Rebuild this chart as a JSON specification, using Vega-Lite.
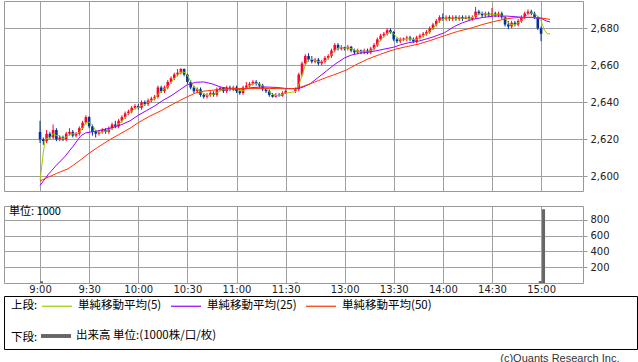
{
  "$schema": "https://vega.github.io/schema/vega-lite/v6.json",
  "padding": {"left": 3, "top": 0, "right": 0, "bottom": 0},
  "background": "#ffffff",
  "title": {"text": "(c)Quants Research Inc.", "orient": "bottom", "anchor": "end", "offset": 3, "dx": -18, "fontSize": 11, "fontWeight": "normal", "font": "Liberation Sans", "color": "#333333"},
  "config": {
    "font": "DejaVu Sans",
    "view": {"stroke": "#999999", "strokeWidth": 1},
    "axis": {"gridColor": "#a0a0a0", "gridWidth": 1, "gridOpacity": 1, "domain": false, "tickColor": "#999999", "labelColor": "#222222", "title": null, "labelFont": "DejaVu Sans", "labelFontSize": 10},
    "legend": {"labelFont": "Noto Sans CJK JP", "labelFontSize": 11.5, "labelColor": "#000000", "padding": 0}
  },
  "datasets": {
    "k": [
      {"t":0,"o":2624,"h":2630,"l":2618,"c":2620},
      {"t":2,"o":2620,"h":2621,"l":2617,"c":2619},
      {"t":4,"o":2619,"h":2625,"l":2618,"c":2623},
      {"t":6,"o":2623,"h":2624,"l":2620,"c":2621},
      {"t":8,"o":2621,"h":2628,"l":2620,"c":2625},
      {"t":10,"o":2625,"h":2626,"l":2619,"c":2620},
      {"t":12,"o":2620,"h":2622,"l":2619,"c":2621},
      {"t":14,"o":2621,"h":2622,"l":2619,"c":2620},
      {"t":16,"o":2620,"h":2624,"l":2619,"c":2623},
      {"t":18,"o":2623,"h":2626,"l":2622,"c":2624},
      {"t":20,"o":2624,"h":2625,"l":2621,"c":2622},
      {"t":22,"o":2622,"h":2624,"l":2621,"c":2623},
      {"t":24,"o":2623,"h":2627,"l":2622,"c":2626},
      {"t":26,"o":2626,"h":2630,"l":2625,"c":2629},
      {"t":28,"o":2629,"h":2633,"l":2628,"c":2632},
      {"t":30,"o":2632,"h":2632.5,"l":2626,"c":2627},
      {"t":32,"o":2627,"h":2628,"l":2622,"c":2624},
      {"t":34,"o":2624,"h":2625,"l":2621,"c":2623},
      {"t":36,"o":2623,"h":2625,"l":2622,"c":2624},
      {"t":38,"o":2624,"h":2626,"l":2623,"c":2625},
      {"t":40,"o":2625,"h":2626,"l":2623,"c":2624},
      {"t":42,"o":2624,"h":2627,"l":2623,"c":2626},
      {"t":44,"o":2626,"h":2629,"l":2625,"c":2628},
      {"t":46,"o":2628,"h":2630,"l":2626,"c":2627},
      {"t":48,"o":2627,"h":2631,"l":2626,"c":2630},
      {"t":50,"o":2630,"h":2633,"l":2629,"c":2632},
      {"t":52,"o":2632,"h":2635,"l":2631,"c":2634},
      {"t":54,"o":2634,"h":2636,"l":2633,"c":2635},
      {"t":56,"o":2635,"h":2638,"l":2634,"c":2637},
      {"t":58,"o":2637,"h":2639,"l":2636,"c":2638},
      {"t":60,"o":2638,"h":2639,"l":2636,"c":2637},
      {"t":62,"o":2637,"h":2641,"l":2636,"c":2640},
      {"t":64,"o":2640,"h":2641,"l":2638,"c":2639},
      {"t":66,"o":2639,"h":2642,"l":2638,"c":2641},
      {"t":68,"o":2641,"h":2643,"l":2640,"c":2642},
      {"t":70,"o":2642,"h":2644,"l":2641,"c":2643},
      {"t":72,"o":2643,"h":2649,"l":2642,"c":2648},
      {"t":74,"o":2648,"h":2649,"l":2645,"c":2646},
      {"t":76,"o":2646,"h":2649,"l":2645,"c":2648},
      {"t":78,"o":2648,"h":2652,"l":2647,"c":2651},
      {"t":80,"o":2651,"h":2654,"l":2650,"c":2653},
      {"t":82,"o":2653,"h":2656,"l":2652,"c":2655},
      {"t":84,"o":2655,"h":2658,"l":2654,"c":2656},
      {"t":86,"o":2656,"h":2658.5,"l":2655,"c":2658},
      {"t":88,"o":2658,"h":2658.3,"l":2654,"c":2655},
      {"t":90,"o":2655,"h":2655.5,"l":2650,"c":2651},
      {"t":92,"o":2651,"h":2652,"l":2647,"c":2648},
      {"t":94,"o":2648,"h":2649,"l":2645,"c":2646},
      {"t":96,"o":2646,"h":2648,"l":2645,"c":2647},
      {"t":98,"o":2647,"h":2648,"l":2643,"c":2644},
      {"t":100,"o":2644,"h":2645,"l":2642,"c":2643},
      {"t":102,"o":2643,"h":2645,"l":2642,"c":2644},
      {"t":104,"o":2644,"h":2646,"l":2643,"c":2645},
      {"t":106,"o":2645,"h":2646,"l":2643,"c":2644},
      {"t":108,"o":2644,"h":2648,"l":2643,"c":2647},
      {"t":110,"o":2647,"h":2648.5,"l":2646,"c":2647.8},
      {"t":112,"o":2647.8,"h":2648,"l":2645,"c":2646},
      {"t":114,"o":2646,"h":2649,"l":2645,"c":2648},
      {"t":116,"o":2648,"h":2649,"l":2646,"c":2647},
      {"t":118,"o":2647,"h":2649,"l":2646,"c":2648},
      {"t":120,"o":2648,"h":2649,"l":2645,"c":2646},
      {"t":122,"o":2646,"h":2647,"l":2644,"c":2645},
      {"t":124,"o":2645,"h":2649,"l":2644,"c":2648},
      {"t":126,"o":2648,"h":2651,"l":2647,"c":2649},
      {"t":128,"o":2649,"h":2651,"l":2648,"c":2650},
      {"t":130,"o":2650,"h":2652,"l":2649,"c":2651},
      {"t":132,"o":2651,"h":2652,"l":2649,"c":2650},
      {"t":134,"o":2650,"h":2651,"l":2648,"c":2649},
      {"t":136,"o":2649,"h":2650,"l":2646,"c":2647},
      {"t":138,"o":2647,"h":2648,"l":2645,"c":2646},
      {"t":140,"o":2646,"h":2647,"l":2643,"c":2644},
      {"t":142,"o":2644,"h":2645,"l":2642.5,"c":2643},
      {"t":144,"o":2643,"h":2645,"l":2642.5,"c":2644},
      {"t":146,"o":2644,"h":2645,"l":2643,"c":2643.5},
      {"t":148,"o":2643.5,"h":2646,"l":2643,"c":2645},
      {"t":150,"o":2645,"h":2647,"l":2644.5,"c":2646},
      {"t":156,"o":2646,"h":2648,"l":2645,"c":2647},
      {"t":158,"o":2647,"h":2656,"l":2646,"c":2655},
      {"t":160,"o":2655,"h":2662,"l":2654,"c":2661},
      {"t":162,"o":2661,"h":2666,"l":2660,"c":2665},
      {"t":164,"o":2665,"h":2666.5,"l":2662,"c":2663},
      {"t":166,"o":2663,"h":2665,"l":2661,"c":2662},
      {"t":168,"o":2662,"h":2664,"l":2661,"c":2663},
      {"t":170,"o":2663,"h":2664,"l":2660,"c":2661},
      {"t":172,"o":2661,"h":2663,"l":2660,"c":2662},
      {"t":174,"o":2662,"h":2665,"l":2661,"c":2664},
      {"t":176,"o":2664,"h":2666,"l":2663,"c":2665},
      {"t":178,"o":2665,"h":2669,"l":2664,"c":2668},
      {"t":180,"o":2668,"h":2672,"l":2667,"c":2671},
      {"t":182,"o":2671,"h":2672,"l":2668,"c":2669},
      {"t":184,"o":2669,"h":2671,"l":2668,"c":2669.8},
      {"t":186,"o":2669.8,"h":2670,"l":2668,"c":2669},
      {"t":188,"o":2669,"h":2671,"l":2668,"c":2670},
      {"t":190,"o":2670,"h":2670.5,"l":2667,"c":2668},
      {"t":192,"o":2668,"h":2669,"l":2666,"c":2667},
      {"t":194,"o":2667,"h":2669,"l":2666,"c":2668},
      {"t":196,"o":2668,"h":2668.5,"l":2666,"c":2667},
      {"t":198,"o":2667,"h":2669,"l":2666,"c":2668},
      {"t":200,"o":2668,"h":2669,"l":2666,"c":2667},
      {"t":202,"o":2667,"h":2670,"l":2666,"c":2669},
      {"t":204,"o":2669,"h":2672,"l":2668,"c":2671},
      {"t":206,"o":2671,"h":2675,"l":2670,"c":2674},
      {"t":208,"o":2674,"h":2677,"l":2673,"c":2676},
      {"t":210,"o":2676,"h":2678,"l":2675,"c":2677},
      {"t":212,"o":2677,"h":2680,"l":2676,"c":2679},
      {"t":214,"o":2679,"h":2680,"l":2677,"c":2678},
      {"t":216,"o":2678,"h":2678.5,"l":2673,"c":2674},
      {"t":218,"o":2674,"h":2675,"l":2672,"c":2673},
      {"t":220,"o":2673,"h":2675,"l":2672,"c":2674},
      {"t":222,"o":2674,"h":2675,"l":2673,"c":2674.5},
      {"t":224,"o":2674.5,"h":2676,"l":2673,"c":2675},
      {"t":226,"o":2675,"h":2676,"l":2673,"c":2674},
      {"t":228,"o":2674,"h":2675,"l":2672,"c":2673},
      {"t":230,"o":2673,"h":2676,"l":2672,"c":2675},
      {"t":232,"o":2675,"h":2677,"l":2674,"c":2676},
      {"t":234,"o":2676,"h":2678,"l":2675,"c":2677},
      {"t":236,"o":2677,"h":2679,"l":2676,"c":2678},
      {"t":238,"o":2678,"h":2681,"l":2677,"c":2680},
      {"t":240,"o":2680,"h":2683,"l":2679,"c":2682},
      {"t":242,"o":2682,"h":2685,"l":2681,"c":2684},
      {"t":244,"o":2684,"h":2687,"l":2683,"c":2686},
      {"t":246,"o":2686,"h":2688,"l":2684,"c":2685},
      {"t":248,"o":2685,"h":2687,"l":2684,"c":2686},
      {"t":250,"o":2686,"h":2687,"l":2684,"c":2685},
      {"t":252,"o":2685,"h":2687,"l":2684,"c":2686},
      {"t":254,"o":2686,"h":2687,"l":2684,"c":2685},
      {"t":256,"o":2685,"h":2687,"l":2684,"c":2686},
      {"t":258,"o":2686,"h":2687,"l":2684,"c":2685},
      {"t":260,"o":2685,"h":2687,"l":2685,"c":2686},
      {"t":262,"o":2686,"h":2687,"l":2684,"c":2685},
      {"t":264,"o":2685,"h":2687,"l":2684,"c":2686},
      {"t":266,"o":2686,"h":2691.5,"l":2685,"c":2689},
      {"t":268,"o":2689,"h":2690,"l":2687,"c":2688},
      {"t":270,"o":2688,"h":2689,"l":2686,"c":2687},
      {"t":272,"o":2687,"h":2689,"l":2686,"c":2688},
      {"t":274,"o":2688,"h":2689,"l":2686,"c":2687},
      {"t":276,"o":2687,"h":2691,"l":2686,"c":2688},
      {"t":278,"o":2688,"h":2689,"l":2686,"c":2687},
      {"t":280,"o":2687,"h":2689,"l":2686,"c":2688},
      {"t":282,"o":2688,"h":2689,"l":2685,"c":2686},
      {"t":284,"o":2686,"h":2686.5,"l":2681,"c":2682},
      {"t":286,"o":2682,"h":2684,"l":2679.5,"c":2681},
      {"t":288,"o":2681,"h":2684,"l":2680,"c":2683},
      {"t":290,"o":2683,"h":2684,"l":2681,"c":2682},
      {"t":292,"o":2682,"h":2685,"l":2681,"c":2684},
      {"t":294,"o":2684,"h":2687,"l":2683,"c":2686},
      {"t":296,"o":2686,"h":2689,"l":2685,"c":2688},
      {"t":298,"o":2688,"h":2690.2,"l":2687,"c":2689},
      {"t":300,"o":2689,"h":2690,"l":2687,"c":2688},
      {"t":302,"o":2688,"h":2689,"l":2685,"c":2686},
      {"t":304,"o":2686,"h":2686.5,"l":2679,"c":2680},
      {"t":306,"o":2680,"h":2681,"l":2673,"c":2677}
    ],
    "m": [
      {"s":"5","t":0,"v":2598},{"s":"5","t":1,"v":2605},{"s":"5","t":2,"v":2613},{"s":"5","t":3,"v":2619},{"s":"5","t":4,"v":2620.5},
      {"s":"5","t":6,"v":2620.7},{"s":"5","t":8,"v":2623},{"s":"5","t":10,"v":2622},{"s":"5","t":12,"v":2622},{"s":"5","t":14,"v":2620.3},
      {"s":"5","t":16,"v":2621.3},{"s":"5","t":18,"v":2622.3},{"s":"5","t":20,"v":2623},{"s":"5","t":22,"v":2623},{"s":"5","t":24,"v":2623.7},
      {"s":"5","t":26,"v":2626},{"s":"5","t":28,"v":2629},{"s":"5","t":30,"v":2629.3},{"s":"5","t":32,"v":2627.7},{"s":"5","t":34,"v":2624.7},
      {"s":"5","t":36,"v":2623.7},{"s":"5","t":38,"v":2624},{"s":"5","t":40,"v":2624.3},{"s":"5","t":42,"v":2625},{"s":"5","t":44,"v":2626},
      {"s":"5","t":46,"v":2627},{"s":"5","t":48,"v":2628.3},{"s":"5","t":50,"v":2629.7},{"s":"5","t":52,"v":2632},{"s":"5","t":54,"v":2633.7},
      {"s":"5","t":56,"v":2635.3},{"s":"5","t":58,"v":2636.7},{"s":"5","t":60,"v":2637.3},{"s":"5","t":62,"v":2638.3},{"s":"5","t":64,"v":2638.7},
      {"s":"5","t":66,"v":2640},{"s":"5","t":68,"v":2640.7},{"s":"5","t":70,"v":2642},{"s":"5","t":72,"v":2644.3},{"s":"5","t":74,"v":2645.7},
      {"s":"5","t":76,"v":2647.3},{"s":"5","t":78,"v":2648.3},{"s":"5","t":80,"v":2650.7},{"s":"5","t":82,"v":2653},{"s":"5","t":84,"v":2654.7},
      {"s":"5","t":86,"v":2656.3},{"s":"5","t":88,"v":2656.3},{"s":"5","t":90,"v":2654.7},{"s":"5","t":92,"v":2651.3},{"s":"5","t":94,"v":2648.3},
      {"s":"5","t":96,"v":2647},{"s":"5","t":98,"v":2645.7},{"s":"5","t":100,"v":2644.7},{"s":"5","t":102,"v":2643.7},{"s":"5","t":104,"v":2644},
      {"s":"5","t":106,"v":2644.3},{"s":"5","t":108,"v":2645.3},{"s":"5","t":110,"v":2646.2},{"s":"5","t":112,"v":2646.8},{"s":"5","t":114,"v":2647.2},
      {"s":"5","t":116,"v":2647},{"s":"5","t":118,"v":2647.7},{"s":"5","t":120,"v":2647},{"s":"5","t":122,"v":2646.3},{"s":"5","t":124,"v":2646.3},
      {"s":"5","t":126,"v":2647.3},{"s":"5","t":128,"v":2649},{"s":"5","t":130,"v":2650},{"s":"5","t":132,"v":2650.3},{"s":"5","t":134,"v":2650},
      {"s":"5","t":136,"v":2648.7},{"s":"5","t":138,"v":2647.3},{"s":"5","t":140,"v":2645.7},{"s":"5","t":142,"v":2644.3},{"s":"5","t":144,"v":2643.7},
      {"s":"5","t":146,"v":2643.7},{"s":"5","t":148,"v":2644.3},{"s":"5","t":150,"v":2645},{"s":"5","t":156,"v":2645.7},{"s":"5","t":158,"v":2649.3},
      {"s":"5","t":160,"v":2654.3},{"s":"5","t":162,"v":2660.3},{"s":"5","t":164,"v":2663},{"s":"5","t":166,"v":2663.3},{"s":"5","t":168,"v":2662.7},
      {"s":"5","t":170,"v":2662},{"s":"5","t":172,"v":2662},{"s":"5","t":174,"v":2662.3},{"s":"5","t":176,"v":2663.7},{"s":"5","t":178,"v":2665.7},
      {"s":"5","t":180,"v":2668},{"s":"5","t":182,"v":2669.3},{"s":"5","t":184,"v":2669.8},{"s":"5","t":186,"v":2669.2},{"s":"5","t":188,"v":2669.5},
      {"s":"5","t":190,"v":2669},{"s":"5","t":192,"v":2668.3},{"s":"5","t":194,"v":2667.7},{"s":"5","t":196,"v":2667.3},{"s":"5","t":198,"v":2667.7},
      {"s":"5","t":200,"v":2667.3},{"s":"5","t":202,"v":2668},{"s":"5","t":204,"v":2669},{"s":"5","t":206,"v":2671.3},{"s":"5","t":208,"v":2673.7},
      {"s":"5","t":210,"v":2675.7},{"s":"5","t":212,"v":2677.3},{"s":"5","t":214,"v":2678},{"s":"5","t":216,"v":2677},{"s":"5","t":218,"v":2675},
      {"s":"5","t":220,"v":2673.7},{"s":"5","t":222,"v":2673.7},{"s":"5","t":224,"v":2674.3},{"s":"5","t":226,"v":2674.3},{"s":"5","t":228,"v":2674},
      {"s":"5","t":230,"v":2674},{"s":"5","t":232,"v":2674.7},{"s":"5","t":234,"v":2676},{"s":"5","t":236,"v":2677},{"s":"5","t":238,"v":2678.3},
      {"s":"5","t":240,"v":2680},{"s":"5","t":242,"v":2682},{"s":"5","t":244,"v":2684},{"s":"5","t":246,"v":2685},{"s":"5","t":248,"v":2685.7},
      {"s":"5","t":250,"v":2685.3},{"s":"5","t":252,"v":2685.7},{"s":"5","t":254,"v":2685.3},{"s":"5","t":256,"v":2685.7},{"s":"5","t":258,"v":2685.3},
      {"s":"5","t":260,"v":2685.7},{"s":"5","t":262,"v":2685.3},{"s":"5","t":264,"v":2685.7},{"s":"5","t":266,"v":2686.7},{"s":"5","t":268,"v":2687.7},
      {"s":"5","t":270,"v":2688},{"s":"5","t":272,"v":2687.7},{"s":"5","t":274,"v":2687.3},{"s":"5","t":276,"v":2687.7},{"s":"5","t":278,"v":2687.3},
      {"s":"5","t":280,"v":2687.7},{"s":"5","t":282,"v":2687},{"s":"5","t":284,"v":2685.3},{"s":"5","t":286,"v":2683},{"s":"5","t":288,"v":2682},
      {"s":"5","t":290,"v":2682},{"s":"5","t":292,"v":2683},{"s":"5","t":294,"v":2684},{"s":"5","t":296,"v":2686},{"s":"5","t":298,"v":2687.7},
      {"s":"5","t":300,"v":2688.3},{"s":"5","t":302,"v":2687.7},{"s":"5","t":304,"v":2686.5},{"s":"5","t":306,"v":2684},{"s":"5","t":308,"v":2679},
      {"s":"5","t":310,"v":2677},{"s":"5","t":311.5,"v":2677},
      {"s":"25","t":0,"v":2595},{"s":"25","t":5,"v":2601},{"s":"25","t":10,"v":2606},{"s":"25","t":15,"v":2610.5},{"s":"25","t":20,"v":2616},
      {"s":"25","t":25,"v":2622},{"s":"25","t":28,"v":2623.5},{"s":"25","t":35,"v":2624.5},{"s":"25","t":40,"v":2625.5},{"s":"25","t":45,"v":2626.5},
      {"s":"25","t":50,"v":2628},{"s":"25","t":55,"v":2630},{"s":"25","t":60,"v":2633},{"s":"25","t":65,"v":2635.5},{"s":"25","t":70,"v":2638},
      {"s":"25","t":75,"v":2641},{"s":"25","t":80,"v":2643.5},{"s":"25","t":85,"v":2646.5},{"s":"25","t":90,"v":2649.5},{"s":"25","t":95,"v":2650.8},
      {"s":"25","t":100,"v":2651},{"s":"25","t":105,"v":2650},{"s":"25","t":110,"v":2648.3},{"s":"25","t":115,"v":2647.5},{"s":"25","t":120,"v":2647},
      {"s":"25","t":125,"v":2647.3},{"s":"25","t":130,"v":2648},{"s":"25","t":137,"v":2648.3},{"s":"25","t":145,"v":2648},{"s":"25","t":150,"v":2647.5},
      {"s":"25","t":156,"v":2647.3},{"s":"25","t":160,"v":2648},{"s":"25","t":165,"v":2650},{"s":"25","t":170,"v":2653.5},{"s":"25","t":175,"v":2657},
      {"s":"25","t":180,"v":2660.5},{"s":"25","t":186,"v":2664},{"s":"25","t":190,"v":2665.5},{"s":"25","t":195,"v":2666.5},{"s":"25","t":200,"v":2667},
      {"s":"25","t":205,"v":2667.8},{"s":"25","t":210,"v":2668.7},{"s":"25","t":216,"v":2669.8},{"s":"25","t":220,"v":2671},{"s":"25","t":225,"v":2672.2},
      {"s":"25","t":231,"v":2673},{"s":"25","t":235,"v":2674},{"s":"25","t":240,"v":2675.3},{"s":"25","t":247,"v":2677.6},{"s":"25","t":253,"v":2681},
      {"s":"25","t":258,"v":2683},{"s":"25","t":264,"v":2684.8},{"s":"25","t":270,"v":2685.8},{"s":"25","t":277,"v":2686.6},{"s":"25","t":285,"v":2686.6},
      {"s":"25","t":294,"v":2686},{"s":"25","t":300,"v":2685.8},{"s":"25","t":306,"v":2685.4},{"s":"25","t":309,"v":2684},{"s":"25","t":311.5,"v":2683.4},
      {"s":"50","t":0,"v":2597.5},{"s":"50","t":5,"v":2599.5},{"s":"50","t":10,"v":2601.5},{"s":"50","t":17,"v":2604},{"s":"50","t":20,"v":2605.8},
      {"s":"50","t":25,"v":2609},{"s":"50","t":30,"v":2612.5},{"s":"50","t":35,"v":2615.5},{"s":"50","t":43,"v":2620},{"s":"50","t":50,"v":2623.5},
      {"s":"50","t":55,"v":2626},{"s":"50","t":60,"v":2629},{"s":"50","t":67,"v":2632.5},{"s":"50","t":74,"v":2635.5},{"s":"50","t":80,"v":2638.5},
      {"s":"50","t":85,"v":2640.8},{"s":"50","t":90,"v":2643},{"s":"50","t":95,"v":2645},{"s":"50","t":100,"v":2646},{"s":"50","t":108,"v":2646.8},
      {"s":"50","t":115,"v":2647.3},{"s":"50","t":125,"v":2647.5},{"s":"50","t":140,"v":2647.5},{"s":"50","t":150,"v":2647.3},{"s":"50","t":156,"v":2647.5},
      {"s":"50","t":160,"v":2648.4},{"s":"50","t":165,"v":2650},{"s":"50","t":170,"v":2651.7},{"s":"50","t":175,"v":2653.5},{"s":"50","t":180,"v":2655},
      {"s":"50","t":187,"v":2657.4},{"s":"50","t":193,"v":2660.3},{"s":"50","t":200,"v":2663.3},{"s":"50","t":208,"v":2666},{"s":"50","t":217,"v":2668.7},
      {"s":"50","t":225,"v":2670.3},{"s":"50","t":231,"v":2671.4},{"s":"50","t":238,"v":2673.3},{"s":"50","t":247,"v":2676},{"s":"50","t":255,"v":2678.3},
      {"s":"50","t":264,"v":2680.3},{"s":"50","t":270,"v":2682},{"s":"50","t":277,"v":2683.6},{"s":"50","t":284,"v":2685},{"s":"50","t":290,"v":2685.7},
      {"s":"50","t":300,"v":2686},{"s":"50","t":306,"v":2685.6},{"s":"50","t":311.5,"v":2684.8}
    ],
    "vol": [
      {"t":0.9,"v":22,"s":"出来高 単位:(1000株/口/枚)"},
      {"t":156.5,"v":8,"s":"出来高 単位:(1000株/口/枚)"},
      {"t":305.5,"v":25,"s":"出来高 単位:(1000株/口/枚)"},
      {"t":307.5,"v":935,"s":"出来高 単位:(1000株/口/枚)"}
    ]
  },
  "spacing": 0,
  "vconcat": [
    {
      "spacing": 13,
      "vconcat": [
        {
          "width": 579,
          "height": 190,
          "layer": [
            {
              "data": {"name": "k"},
              "mark": {"type": "rule", "strokeWidth": 1},
              "encoding": {
                "x": {"field": "t", "type": "quantitative", "scale": {"domain": [-22, 331.6], "nice": false, "zero": false, "padding": 0},
                  "axis": {"values": [0, 30, 60, 90, 120, 150, 186, 216, 246, 276, 306], "labels": false, "ticks": false, "grid": true, "domain": false}},
                "y": {"field": "l", "type": "quantitative", "scale": {"domain": [2592.05, 2694.75], "nice": false, "zero": false},
                  "axis": {"orient": "right", "values": [2600, 2620, 2640, 2660, 2680], "format": ",d", "tickSize": 4, "labelPadding": 3, "grid": true}},
                "y2": {"field": "h"},
                "color": {"condition": {"test": "datum.c >= datum.o", "value": "#ff0033"}, "value": "#003399"}
              }
            },
            {
              "data": {"name": "k"},
              "mark": {"type": "bar", "width": 2.6},
              "encoding": {
                "x": {"field": "t", "type": "quantitative"},
                "y": {"field": "o", "type": "quantitative"},
                "y2": {"field": "c"},
                "color": {"condition": {"test": "datum.c >= datum.o", "value": "#ff0033"}, "value": "#003399"}
              }
            },
            {
              "data": {"name": "m"},
              "mark": {"type": "line", "strokeWidth": 1},
              "encoding": {
                "x": {"field": "t", "type": "quantitative"},
                "y": {"field": "v", "type": "quantitative"},
                "stroke": {"field": "s", "type": "nominal",
                  "scale": {"domain": ["5", "25", "50"], "range": ["#99cc00", "#9900ff", "#ff3300"]},
                  "legend": {"orient": "none", "legendX": 37, "legendY": 289, "direction": "horizontal", "title": null,
                    "symbolType": "stroke", "symbolSize": 900, "symbolStrokeWidth": 1.2, "labelOffset": 5, "columnPadding": 6,
                    "labelExpr": "'単純移動平均(' + datum.label + ')'"}
                }
              }
            }
          ]
        },
        {
          "width": 579,
          "height": 77,
          "title": {"text": "単位: 1000", "anchor": "start", "offset": -11, "dx": 5, "fontSize": 11, "fontWeight": "normal", "font": "Noto Sans CJK JP", "color": "#000000"},
          "data": {"name": "vol"},
          "mark": {"type": "bar", "width": 3},
          "encoding": {
            "x": {"field": "t", "type": "quantitative", "scale": {"domain": [-22, 331.6], "nice": false, "zero": false, "padding": 0},
              "axis": {"values": [0, 30, 60, 90, 120, 150, 186, 216, 246, 276, 306], "ticks": false, "grid": true, "labelPadding": 1, "labelOverlap": false, "labelFlush": false,
                "labelExpr": "datum.value==0?'9:00':datum.value==30?'9:30':datum.value==60?'10:00':datum.value==90?'10:30':datum.value==120?'11:00':datum.value==150?'11:30':datum.value==186?'13:00':datum.value==216?'13:30':datum.value==246?'14:00':datum.value==276?'14:30':'15:00'"}},
            "y": {"field": "v", "type": "quantitative", "stack": null, "scale": {"domain": [0, 976], "nice": false},
              "axis": {"orient": "right", "values": [200, 400, 600, 800], "tickSize": 4, "labelPadding": 3, "grid": true}},
            "fill": {"field": "s", "type": "nominal", "scale": {"range": ["#666666"]},
              "legend": {"orient": "none", "legendX": 37, "legendY": 320, "title": null,
                "symbolType": "M-1,-0.13H1V0.13H-1Z", "symbolSize": 900, "symbolStrokeWidth": 0, "labelOffset": 5}}
          }
        }
      ]
    },
    {
      "width": 633,
      "height": 53,
      "view": {"stroke": "#000000"},
      "title": {"text": "上段:", "subtitle": "下段:", "anchor": "start", "orient": "top", "offset": -47, "dx": 7, "fontSize": 11.5, "fontWeight": "normal", "font": "Noto Sans CJK JP", "color": "#000000",
        "subtitleFont": "Noto Sans CJK JP", "subtitleFontSize": 11.5, "subtitleColor": "#000000", "subtitlePadding": 20},
      "data": {"values": [{"a": 1}]},
      "mark": {"type": "point", "opacity": 0},
      "encoding": {}
    }
  ]
}
